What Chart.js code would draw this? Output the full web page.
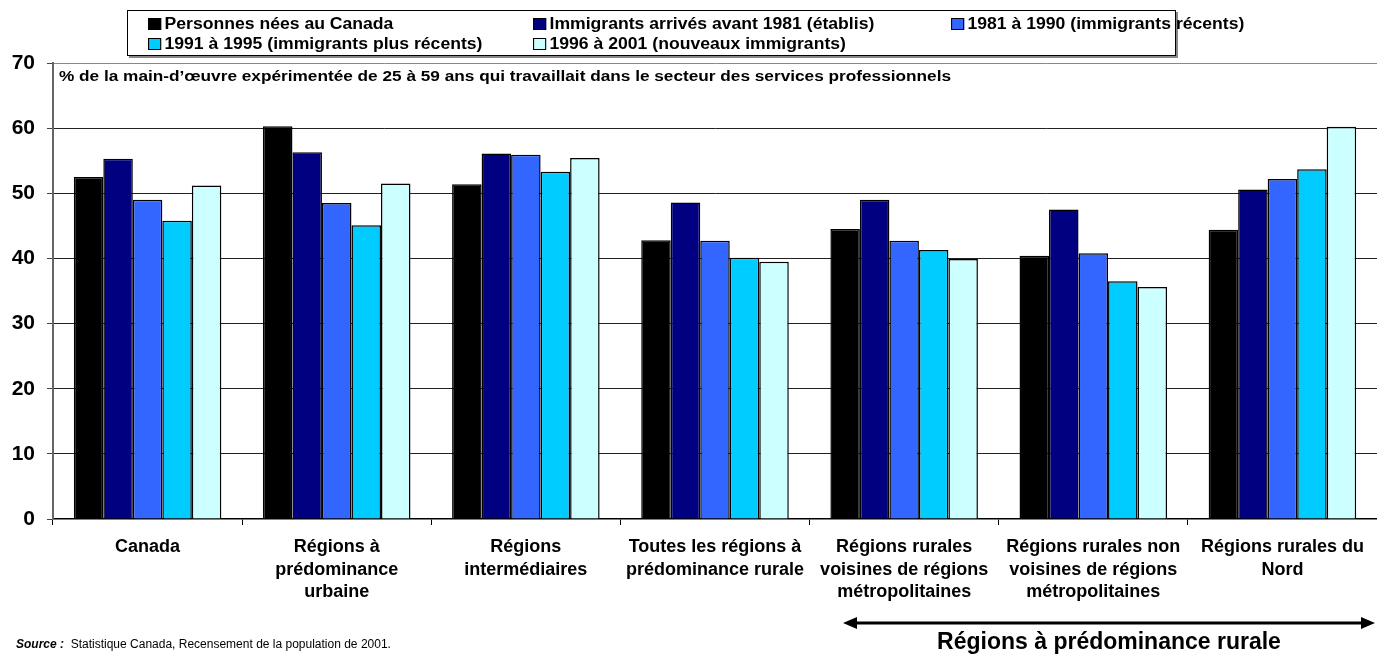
<!DOCTYPE html>
<html>
<head>
<meta charset="utf-8">
<script src="https://cdn.jsdelivr.net/npm/chart.js@4"></script>
<style>
  body { margin: 0; background: #fff; font-family: "Liberation Sans", Arial, sans-serif; }
  #wrap { position: relative; width: 1377px; height: 656px; overflow: hidden; }
  #legend { position: absolute; left: 127px; top: 10px; width: 1047px; height: 44px;
            border: 1px solid #000; box-shadow: 2px 2px 0 #888; background: #fff; }
  .item { position: absolute; font-weight: bold; font-size: 16px; white-space: nowrap; line-height: 16px;
          transform: scaleX(1.1); transform-origin: left center; }
  .item span.sw { display: inline-block; width: 10px; height: 10px; border: 1px solid #000; margin-right: 3px; vertical-align: -1px; }
  #note { position: absolute; left: 59px; top: 68px; font-weight: bold; font-size: 14px; white-space: nowrap;
          transform: scaleX(1.23); transform-origin: left center; }
  #source { position: absolute; left: 16px; top: 637px; font-size: 12px; }
  #rural { position: absolute; left: 843px; width: 532px; top: 629px; line-height: 24px; text-align: center; font-weight: bold; font-size: 23px; }
</style>
</head>
<body>
<div id="wrap">
  <canvas id="chart" width="1377" height="656"></canvas>
  <div id="legend"></div>
  <div id="note">% de la main-d’œuvre expérimentée de 25 à 59 ans qui travaillait dans le secteur des services professionnels</div>
  <div id="source"><b><i>Source :</i></b>&nbsp; Statistique Canada, Recensement de la population de 2001.</div>
  <div id="rural">Régions à prédominance rurale</div>
</div>
<script>
// categories (x axis)
const regions = [
  ["Canada"],
  ["Régions à", "prédominance", "urbaine"],
  ["Régions", "intermédiaires"],
  ["Toutes les régions à", "prédominance rurale"],
  ["Régions rurales", "voisines de régions", "métropolitaines"],
  ["Régions rurales non", "voisines de régions", "métropolitaines"],
  ["Régions rurales du", "Nord"]
];

const seriesNames = [
  "Personnes nées au Canada",
  "Immigrants arrivés avant 1981 (établis)",
  "1981 à 1990 (immigrants récents)",
  "1991 à 1995 (immigrants plus récents)",
  "1996 à 2001 (nouveaux immigrants)"
];

// % values
const nesCanada   = [52.5, 60.3, 51.4, 42.8, 44.5, 40.4, 44.4];
const avant1981   = [55.3, 56.3, 56.1, 48.6, 49.0, 47.5, 50.6];
const de1981a1990 = [49.0, 48.5, 55.9, 42.7, 42.7, 40.8, 52.2];
const de1991a1995 = [45.8, 45.1, 53.3, 40.1, 41.3, 36.5, 53.7];
const de1996a2001 = [51.2, 51.5, 55.4, 39.5, 39.9, 35.6, 60.2];

const yTicks = [0, 10, 20, 30, 40, 50, 60, 70];

const colors = ["#000000", "#000080", "#3366FF", "#00CCFF", "#CCFFFF"];
const values = [nesCanada, avant1981, de1981a1990, de1991a1995, de1996a2001];

const arrowPlugin = {
  id: "arrow",
  afterDraw(chart) {
    const c = chart.ctx;
    const y = 623, x1 = 843, x2 = 1375;
    c.save();
    c.strokeStyle = "#000";
    c.fillStyle = "#000";
    c.lineWidth = 3;
    c.beginPath();
    c.moveTo(x1 + 8, y);
    c.lineTo(x2 - 8, y);
    c.stroke();
    c.beginPath();
    c.moveTo(x1, y); c.lineTo(x1 + 14, y - 6); c.lineTo(x1 + 14, y + 6); c.closePath();
    c.fill();
    c.beginPath();
    c.moveTo(x2, y); c.lineTo(x2 - 14, y - 6); c.lineTo(x2 - 14, y + 6); c.closePath();
    c.fill();
    c.restore();
  }
};

const chart = new Chart(document.getElementById("chart").getContext("2d"), {
  type: "bar",
  data: {
    labels: regions,
    datasets: seriesNames.map((name, i) => ({
      label: name,
      data: values[i],
      backgroundColor: colors[i],
      borderColor: "#000",
      borderWidth: 1.5,
      borderSkipped: "bottom",
      categoryPercentage: 0.78,
      barPercentage: 1.0
    }))
  },
  options: {
    responsive: false,
    animation: false,
    layout: { padding: { top: 63, left: 0, right: 0, bottom: 0 } },
    plugins: { legend: { display: false }, tooltip: { enabled: false } },
    scales: {
      x: {
        afterFit: (s) => { s.height = 137; },
        border: { color: "#000", width: 1.5 },
        grid: { offset: true, drawOnChartArea: false, tickLength: 6, color: "#000" },
        ticks: {
          color: "#000",
          font: { family: "Liberation Sans", size: 18, weight: "bold", lineHeight: 1.25 },
          maxRotation: 0, autoSkip: false, padding: 11
        }
      },
      y: {
        min: 0, max: 70,
        afterFit: (s) => { s.width = 53; },
        afterBuildTicks: (s) => { s.ticks = yTicks.map(v => ({ value: v })); },
        border: { color: "#666", width: 2 },
        grid: {
          color: (ctx) => {
            if (!ctx.tick) return "#222";
            if (ctx.tick.value === 0) return "rgba(0,0,0,0)";
            if (ctx.tick.value === 70) return "#888";
            return "#222";
          },
          tickColor: "#444",
          tickLength: 6,
          lineWidth: 1
        },
        ticks: {
          color: "#000",
          font: { family: "Liberation Sans", size: 21, weight: "bold" },
          padding: 12
        }
      }
    }
  },
  plugins: [arrowPlugin]
});

// legend built from the datasets
const legendPos = [[20, 5], [405, 5], [823, 5], [20, 25], [405, 25]];
const legend = document.getElementById("legend");
chart.data.datasets.forEach((ds, i) => {
  const d = document.createElement("div");
  d.className = "item";
  d.style.left = legendPos[i][0] + "px";
  d.style.top = legendPos[i][1] + "px";
  d.innerHTML = '<span class="sw" style="background:' + ds.backgroundColor + '"></span>' + ds.label;
  legend.appendChild(d);
});
</script>
</body>
</html>
